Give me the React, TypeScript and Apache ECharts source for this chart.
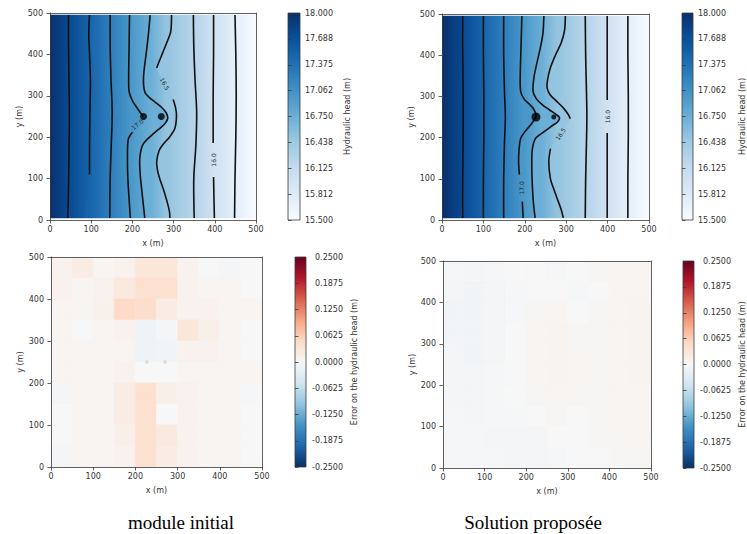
import React, { useEffect, useRef } from 'react';
import * as echarts from 'echarts';

const W = 747;
const H = 534;
const FONT = 'DejaVu Sans';
const TXT = '#333';
const SMOOTH = 0.3;

// ---------- data ----------
// hydraulic head at x=0, at the 9 contour lines, and at x=500
const headLevels = [18.0, 17.75, 17.5, 17.25, 17.0, 16.75, 16.5, 16.25, 16.0, 15.75, 15.5];
const headTickLabels = ['15.500', '15.812', '16.125', '16.438', '16.750', '17.062', '17.375', '17.688', '18.000'];
const errTickLabels = ['-0.2500', '-0.1875', '-0.1250', '-0.0625', '0.0000', '0.0625', '0.1250', '0.1875', '0.2500'];
const fieldYMin = 4;
const fieldYMax = 496;

const wellsX = [227, 270];
const wellsY = [250, 250];
const wellSizesInitial = [7, 7];
const wellSizesProposed = [9, 5];

type Pt = [number, number] | null;

// contour lines (x, y in m), top to bottom; null = gap left for an inline label
const contoursInitial: Pt[][] = [
  [[45, 495], [45, 420], [46, 340], [47, 250], [46, 160], [45, 80], [43, 5]],
  [[96, 495], [94, 450], [96, 400], [98, 340], [97, 260], [96, 180], [96, 110]],
  [[146, 495], [146, 420], [148, 340], [151, 260], [149, 190], [146, 100], [145, 5]],
  [[193, 495], [192, 420], [191, 350], [192, 310], [200, 288], [212, 270], [226, 250], null, [200, 212], [190, 195], [188, 150], [189, 100], [192, 50], [195, 5]],
  [[243, 495], [239, 450], [234, 406], [227, 345], [230, 310], [242, 295], [255, 285], [270, 273], [282, 259], [286, 246], [280, 234], [271, 225], [247, 205], [226, 183], [218, 150], [219, 110], [223, 70], [230, 5]],
  [[295, 495], [293, 455], [284, 430], [274, 405], [263, 378], [259, 367], null, [299, 291], [305, 270], [307, 250], [303, 221], [290, 200], [279, 188], [265, 168], [259, 140], [262, 115], [268, 95], [276, 72], [284, 45], [290, 20], [291, 5]],
  [[348, 495], [349, 420], [352, 340], [356, 260], [354, 180], [349, 100], [350, 5]],
  [[397, 495], [397, 400], [396, 300], [396, 186], null, [397, 104], [398, 50], [399, 5]],
  [[449, 495], [451, 400], [452, 300], [451, 200], [449, 100], [448, 5]],
];
const contoursProposed: Pt[][] = [
  [[50, 495], [50, 400], [51, 300], [51, 200], [50, 100], [50, 5]],
  [[100, 495], [100, 400], [101, 300], [101, 200], [100, 100], [100, 5]],
  [[149, 495], [149, 400], [151, 310], [153, 250], [151, 190], [149, 100], [149, 5]],
  [[193, 495], [191, 424], [189, 350], [190, 312], [198, 294], [210, 282], [221, 270], [227, 252], [215, 232], [200, 214], [190, 198], [186, 170], [185, 140], [187, 110], null, [194, 45], [196, 5]],
  [[246, 495], [244, 455], [238, 420], [229, 380], [222, 345], [220, 312], [228, 294], [242, 280], [260, 267], [276, 256], [284, 248], [279, 238], [268, 230], [246, 214], [226, 198], [218, 170], [217, 130], [218, 90], [221, 40], [225, 5]],
  [[298, 495], [296, 460], [288, 430], [274, 400], [262, 370], [255, 340], [254, 320], [262, 303], [276, 289], [294, 271], [305, 256], [310, 246], null, [262, 173], [258, 141], [262, 100], [270, 75], [279, 50], [288, 25], [293, 5]],
  [[346, 495], [347, 400], [349, 310], [350, 250], [349, 190], [347, 100], [346, 5]],
  [[399, 495], [399, 400], [399, 291], null, [399, 211], [399, 100], [399, 5]],
  [[449, 495], [449, 400], [450, 300], [450, 200], [449, 100], [449, 5]],
];
// inline contour labels: x, y, text, rotation (deg)
const labelsInitial: [number, number, string, number][] = [
  [212, 231, '17.0', 40],
  [279, 329, '16.5', -62],
  [397, 145, '16.0', 90],
];
const labelsProposed: [number, number, string, number][] = [
  [191, 78, '17.0', 90],
  [286, 209, '16.5', 56],
  [399, 251, '16.0', 90],
];

// error on head, 50 m cells, rows from y=450-500 (top) down to y=0-50
const errCell = 50;
const errInitial = [
  [0.010, 0.020, 0.005, 0.010, 0.030, 0.030, 0.010, 0.000, -0.005, 0.000],
  [0.010, 0.005, 0.010, 0.025, 0.040, 0.040, 0.010, 0.005, 0.005, 0.000],
  [0.005, 0.005, 0.012, 0.050, 0.045, 0.020, 0.010, 0.010, 0.005, 0.005],
  [0.005, 0.000, 0.005, 0.010, -0.010, -0.005, 0.030, 0.015, 0.005, 0.000],
  [0.005, 0.005, 0.005, 0.005, -0.012, -0.008, 0.010, 0.010, 0.005, 0.000],
  [0.005, 0.005, 0.005, 0.010, 0.000, 0.000, 0.005, 0.005, 0.005, 0.005],
  [-0.005, 0.005, 0.005, 0.020, 0.040, 0.015, 0.010, 0.005, 0.005, -0.003],
  [0.000, 0.005, 0.005, 0.020, 0.040, 0.000, 0.010, 0.005, 0.005, 0.000],
  [0.000, 0.005, 0.005, 0.015, 0.040, 0.025, 0.010, 0.005, 0.005, 0.000],
  [-0.005, 0.005, 0.005, 0.010, 0.040, 0.020, 0.010, 0.005, 0.005, 0.000],
];
const errProposed = [
  [-0.003, -0.005, -0.003, 0.000, 0.000, -0.003, 0.000, 0.003, 0.005, 0.005],
  [-0.005, -0.008, -0.005, -0.003, 0.000, 0.000, -0.003, 0.000, 0.005, 0.005],
  [-0.008, -0.008, -0.005, -0.003, 0.003, 0.005, 0.000, 0.003, 0.005, 0.008],
  [-0.008, -0.008, -0.005, 0.000, 0.005, 0.008, 0.003, 0.003, 0.005, 0.008],
  [-0.005, -0.008, -0.005, 0.000, 0.005, 0.008, 0.005, 0.003, 0.005, 0.008],
  [-0.005, -0.005, -0.003, 0.000, 0.005, 0.008, 0.005, 0.003, 0.005, 0.008],
  [-0.005, -0.005, -0.003, 0.000, 0.003, 0.005, 0.003, 0.003, 0.005, 0.005],
  [-0.003, -0.005, -0.003, -0.003, 0.000, 0.003, 0.000, 0.003, 0.005, 0.005],
  [-0.003, -0.003, -0.005, -0.005, -0.005, 0.000, 0.000, 0.003, 0.003, 0.005],
  [-0.003, -0.003, -0.003, -0.005, -0.005, -0.003, 0.000, 0.000, 0.003, 0.003],
];

const captions = ['module initial', 'Solution proposée'];

// ---------- colour maps ----------
const BLUES = ['#f7fbff', '#deebf7', '#c6dbef', '#9ecae1', '#6baed6', '#4292c6', '#2171b5', '#08519c', '#08306b'];
const RDBU_R = ['#053061', '#2166ac', '#4393c3', '#92c5de', '#d1e5f0', '#f7f7f7', '#fddbc7', '#f4a582', '#d6604d', '#b2182b', '#67001f'];

function hexRgb(h: string) {
  return [parseInt(h.slice(1, 3), 16), parseInt(h.slice(3, 5), 16), parseInt(h.slice(5, 7), 16)];
}
function cmap(stops: string[], t: number) {
  const tt = Math.max(0, Math.min(1, t));
  const n = stops.length - 1;
  const f = tt * n;
  const i = Math.min(n - 1, Math.floor(f));
  const u = f - i;
  const a = hexRgb(stops[i]);
  const b = hexRgb(stops[i + 1]);
  const c = a.map((v, k) => Math.round(v + (b[k] - v) * u));
  return `rgb(${c[0]},${c[1]},${c[2]})`;
}
const headColor = (v: number) => cmap(BLUES, (v - 15.5) / 2.5);
const errColor = (v: number) => cmap(RDBU_R, (v + 0.25) / 0.5);

// ---------- layout ----------
type Panel = {
  grid: { left: number; top: number; width: number; height: number };
  cbar: { left: number; top: number; width: number; height: number };
  kind: 'head' | 'err';
  lines?: Pt[][];
  labels?: [number, number, string, number][];
  wellSizes?: number[];
  err?: number[][];
  cbarGap: number;
};

const panels: Panel[] = [
  { grid: { left: 50, top: 13, width: 206, height: 207 }, cbar: { left: 288, top: 13, width: 12, height: 207 }, kind: 'head', lines: contoursInitial, labels: labelsInitial, wellSizes: wellSizesInitial, cbarGap: 43 },
  { grid: { left: 442, top: 14, width: 207, height: 206 }, cbar: { left: 682, top: 13, width: 12, height: 207 }, kind: 'head', lines: contoursProposed, labels: labelsProposed, wellSizes: wellSizesProposed, cbarGap: 45 },
  { grid: { left: 51, top: 257, width: 211, height: 210 }, cbar: { left: 295, top: 257, width: 11, height: 210 }, kind: 'err', err: errInitial, cbarGap: 44 },
  { grid: { left: 443, top: 261, width: 208, height: 207 }, cbar: { left: 683, top: 261, width: 12, height: 207 }, kind: 'err', err: errProposed, cbarGap: 44 },
];

const axisText = { fontSize: 8, fontFamily: FONT, color: TXT };
const lineCol = '#3a3a3a';

function mainX(gi: number) {
  return {
    gridIndex: gi, type: 'value', min: 0, max: 500, interval: 100, position: 'bottom', z: 6,
    axisLine: { show: true, onZero: false, lineStyle: { color: lineCol, width: 0.8 } },
    axisTick: { show: true, length: 3.5, lineStyle: { color: lineCol, width: 0.8 } },
    axisLabel: { ...axisText, margin: 5 },
    splitLine: { show: false },
    name: 'x (m)', nameLocation: 'middle', nameGap: 19, nameTextStyle: axisText,
  };
}
function mainY(gi: number) {
  return {
    gridIndex: gi, type: 'value', min: 0, max: 500, interval: 100, position: 'left', z: 6,
    axisLine: { show: true, onZero: false, lineStyle: { color: lineCol, width: 0.8 } },
    axisTick: { show: true, length: 3.5, lineStyle: { color: lineCol, width: 0.8 } },
    axisLabel: { ...axisText, margin: 7 },
    splitLine: { show: false },
    name: 'y (m)', nameLocation: 'middle', nameGap: 27, nameRotate: 90, nameTextStyle: axisText,
  };
}
function frameAxis(gi: number, position: string) {
  return {
    gridIndex: gi, type: 'value', min: 0, max: 500, position, z: 6,
    axisLine: { show: true, onZero: false, lineStyle: { color: lineCol, width: 0.8 } },
    axisTick: { show: false }, axisLabel: { show: false }, splitLine: { show: false },
  };
}

function meanPx(line: Pt[], api: any) {
  const pts = line.filter(Boolean) as [number, number][];
  let s = 0;
  pts.forEach((p) => { s += api.coord(p)[0]; });
  return s / pts.length;
}

function buildOption() {
  const grid: any[] = [];
  const xAxis: any[] = [];
  const yAxis: any[] = [];
  const series: any[] = [];

  panels.forEach((p) => {
    const gi = grid.length;
    grid.push({ ...p.grid, containLabel: false, show: false });
    grid.push({ ...p.cbar, containLabel: false, show: false });
    const ai = xAxis.length;
    xAxis.push(mainX(gi), frameAxis(gi, 'top'), { gridIndex: gi + 1, type: 'value', min: 0, max: 1, show: false });

    const isHead = p.kind === 'head';
    const cMin = isHead ? 15.5 : -0.25;
    const cMax = isHead ? 18 : 0.25;
    const cInt = isHead ? 0.3125 : 0.0625;
    const cLabels = isHead ? headTickLabels : errTickLabels;
    yAxis.push(mainY(gi), frameAxis(gi, 'right'), {
      gridIndex: gi + 1, type: 'value', min: cMin, max: cMax, interval: cInt, position: 'right', z: 6,
      axisLine: { show: false },
      axisTick: { show: true, length: 3.5, lineStyle: { color: lineCol, width: 0.8 } },
      axisLabel: {
        ...axisText,
        margin: isHead ? 5 : 37,
        align: isHead ? 'left' : 'right',
        formatter: (v: number) => cLabels[Math.round((v - cMin) / cInt)] ?? '',
      },
      splitLine: { show: false },
      name: isHead ? 'Hydraulic head (m)' : 'Error on the hydraulic head (m)',
      nameLocation: 'middle', nameRotate: 90, nameGap: p.cbarGap, nameTextStyle: axisText,
    });

    // colour bar
    const stops = (isHead ? BLUES : RDBU_R).map((c, i, arr) => ({ offset: i / (arr.length - 1), color: c }));
    series.push({
      type: 'custom', xAxisIndex: ai + 2, yAxisIndex: ai + 2, silent: true, z: 2,
      data: [[0, cMin]],
      renderItem: (_params: any, api: any) => {
        const p0 = api.coord([0, cMax]);
        const p1 = api.coord([1, cMin]);
        return {
          type: 'rect',
          shape: { x: p0[0], y: p0[1], width: p1[0] - p0[0], height: p1[1] - p0[1] },
          style: { fill: new echarts.graphic.LinearGradient(0, 1, 0, 0, stops), stroke: lineCol, lineWidth: 0.8 },
        };
      },
    });

    if (isHead && p.lines) {
      const lines = p.lines;
      const bands = headLevels.slice(0, -1).map((_, i) => [i]);
      series.push({
        type: 'custom', xAxisIndex: ai, yAxisIndex: ai, clip: true, silent: true, z: 1,
        data: bands,
        renderItem: (params: any, api: any) => {
          const i = params.dataIndex;
          const left = i === 0 ? null : lines[i - 1];
          const right = i === lines.length ? null : lines[i];
          let poly: number[][];
          if (!left) {
            poly = [[-200, 700], [-200, -200], [900, -200], [900, 700]];
          } else {
            const pts = left.filter(Boolean) as [number, number][];
            poly = [[pts[0][0], 700], ...pts, [pts[pts.length - 1][0], -200], [900, -200], [900, 700]];
          }
          const pix = poly.map((q) => api.coord(q));
          const x0 = left ? meanPx(left, api) : api.coord([0, 0])[0];
          const x1 = right ? meanPx(right, api) : api.coord([500, 0])[0];
          return {
            type: 'polygon',
            shape: { points: pix, smooth: left ? SMOOTH : 0 },
            style: {
              fill: new echarts.graphic.LinearGradient(x0, 0, x1, 0, [
                { offset: 0, color: headColor(headLevels[i]) },
                { offset: 1, color: headColor(headLevels[i + 1]) },
              ], true),
              stroke: null,
            },
          };
        },
      });
      // thin white margins of the field
      series.push({
        type: 'custom', xAxisIndex: ai, yAxisIndex: ai, clip: true, silent: true, z: 2,
        data: [[0, fieldYMax, 500, 500], [0, 0, 500, fieldYMin]],
        renderItem: (_params: any, api: any) => {
          const a = api.coord([api.value(0), api.value(3)]);
          const b = api.coord([api.value(2), api.value(1)]);
          return { type: 'rect', shape: { x: a[0], y: a[1], width: b[0] - a[0], height: b[1] - a[1] }, style: { fill: '#ffffff' } };
        },
      });
      // contour lines
      series.push({
        type: 'custom', xAxisIndex: ai, yAxisIndex: ai, clip: true, silent: true, z: 3,
        data: lines.map((_, i) => [i]),
        renderItem: (params: any, api: any) => {
          const line = lines[params.dataIndex];
          const segs: number[][][] = [];
          let cur: number[][] = [];
          line.forEach((q) => {
            if (q === null) { if (cur.length) segs.push(cur); cur = []; } else cur.push(api.coord(q));
          });
          if (cur.length) segs.push(cur);
          return {
            type: 'group',
            children: segs.map((s) => ({
              type: 'polyline',
              shape: { points: s, smooth: SMOOTH },
              style: { stroke: '#111111', lineWidth: 1.6, fill: 'none' },
            })),
          };
        },
      });
      // inline labels
      const labs = p.labels || [];
      series.push({
        type: 'custom', xAxisIndex: ai, yAxisIndex: ai, silent: true, z: 4,
        data: labs.map((l) => [l[0], l[1]]),
        renderItem: (params: any, api: any) => {
          const l = labs[params.dataIndex];
          const c = api.coord([l[0], l[1]]);
          return {
            type: 'text', x: c[0], y: c[1], rotation: (l[3] * Math.PI) / 180,
            style: {
              text: l[2], fill: '#2a2a2a', fontSize: 6, fontFamily: FONT,
              align: 'center', verticalAlign: 'middle', textAlign: 'center', textVerticalAlign: 'middle',
            },
          };
        },
      });
      const sizes = p.wellSizes || [7, 7];
      series.push({
        type: 'scatter', xAxisIndex: ai, yAxisIndex: ai, silent: true, z: 5,
        data: wellsX.map((x, i) => [x, wellsY[i]]),
        symbolSize: (_v: any, prm: any) => sizes[prm.dataIndex],
        itemStyle: { color: '#000000' },
      });
    } else if (p.err) {
      const rows = p.err;
      const data: number[][] = [];
      rows.forEach((row, r) => row.forEach((v, c) => data.push([c * errCell, (rows.length - 1 - r) * errCell, v])));
      series.push({
        type: 'custom', xAxisIndex: ai, yAxisIndex: ai, clip: true, silent: true, z: 1,
        data,
        renderItem: (_params: any, api: any) => {
          const x0 = api.value(0);
          const y0 = api.value(1);
          const a = api.coord([x0, y0 + errCell]);
          const b = api.coord([x0 + errCell, y0]);
          const col = errColor(api.value(2));
          return {
            type: 'rect',
            shape: { x: a[0], y: a[1], width: b[0] - a[0], height: b[1] - a[1] },
            style: { fill: col, stroke: col, lineWidth: 0.6 },
          };
        },
      });
      if (p.err === errInitial) {
        series.push({
          type: 'scatter', xAxisIndex: ai, yAxisIndex: ai, silent: true, z: 3,
          data: wellsX.map((x, i) => [x, wellsY[i]]),
          symbolSize: 4,
          itemStyle: { color: '#d2dae2' },
        });
      }
    }
  });

  return {
    animation: false,
    backgroundColor: '#ffffff',
    grid, xAxis, yAxis, series,
    graphic: [
      {
        type: 'text', x: 181, y: 522, z: 10,
        style: { text: captions[0], fontSize: 19, fontFamily: '"Liberation Serif", serif', fill: '#000', align: 'center', verticalAlign: 'middle', textAlign: 'center', textVerticalAlign: 'middle' },
      },
      {
        type: 'text', x: 533, y: 522, z: 10,
        style: { text: captions[1], fontSize: 19, fontFamily: '"Liberation Serif", serif', fill: '#000', align: 'center', verticalAlign: 'middle', textAlign: 'center', textVerticalAlign: 'middle' },
      },
    ],
  };
}

export default function App() {
  const ref = useRef<HTMLDivElement>(null);
  useEffect(() => {
    if (!ref.current) return;
    const chart = echarts.init(ref.current, null, { renderer: 'svg' });
    chart.setOption(buildOption() as any);
    return () => chart.dispose();
  }, []);
  return (
    <div
      ref={ref}
      style={{ position: 'fixed', left: 0, top: 0, width: W, height: H, background: '#fff' }}
    />
  );
}
